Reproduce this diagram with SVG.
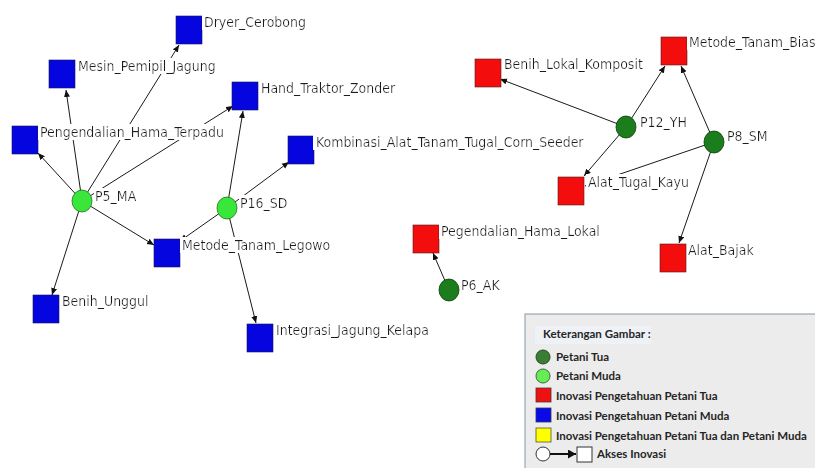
<svg xmlns="http://www.w3.org/2000/svg" width="815" height="468" viewBox="0 0 815 468">
  <style>
    .edge { stroke: #1a1a1a; stroke-width: 1; fill: none; marker-end: url(#arrow); }
    .blue { fill: #0505e0; stroke: #1a1a50; stroke-width: 0.6; }
    .red { fill: #f40d0d; stroke: #501a1a; stroke-width: 0.6; }
    .old { fill: #1b7d1b; stroke: #0d3d0d; stroke-width: 0.8; }
    .young { fill: #3be63b; stroke: #1d7a1d; stroke-width: 0.8; }
    .lbl { font-family: "DejaVu Sans Condensed", "DejaVu Sans", sans-serif; font-stretch: condensed; font-size: 13.95px; fill: #1c1c1c; filter: url(#labelbg); }
    .leg { font-family: Lato, "Liberation Sans", sans-serif; font-weight: 700; font-size: 11.5px; fill: #262626; }
  </style>
  <defs>
    <marker id="arrow" markerUnits="userSpaceOnUse" markerWidth="8" markerHeight="8" refX="7" refY="3.5" orient="auto">
      <path d="M0,0.5 L7,3.5 L0,6.5 Z" fill="#111"/>
    </marker>
    <marker id="arrowBold" markerUnits="userSpaceOnUse" markerWidth="10" markerHeight="10" refX="8" refY="4.5" orient="auto">
      <path d="M0,0 L8,4.5 L0,9 Z" fill="#111"/>
    </marker>
    <!-- opaque white box behind node labels -->
    <filter id="labelbg" x="-0.01" y="0" width="1.02" height="1">
      <feFlood flood-color="#ffffff"/>
      <feComposite in="SourceGraphic" operator="over"/>
    </filter>
  </defs>

  <rect width="815" height="468" fill="#ffffff"/>

  <!-- connectors -->
  <g id="edges">
    <line class="edge" x1="82" y1="201" x2="38" y2="153"/>
    <line class="edge" x1="82" y1="201" x2="66" y2="90"/>
    <line class="edge" x1="82" y1="201" x2="179" y2="45"/>
    <line class="edge" x1="82" y1="201" x2="233" y2="106"/>
    <line class="edge" x1="82" y1="201" x2="154" y2="245"/>
    <line class="edge" x1="82" y1="201" x2="52" y2="295"/>
    <line class="edge" x1="227" y1="208" x2="243" y2="111"/>
    <line class="edge" x1="227" y1="208" x2="289" y2="162"/>
    <line class="edge" x1="227" y1="208" x2="180" y2="241"/>
    <line class="edge" x1="227" y1="208" x2="256" y2="323"/>
    <line class="edge" x1="626" y1="127" x2="500" y2="79"/>
    <line class="edge" x1="626" y1="127" x2="665" y2="66"/>
    <line class="edge" x1="626" y1="127" x2="584" y2="176"/>
    <line class="edge" x1="714" y1="142" x2="681" y2="66"/>
    <line class="edge" x1="714" y1="142" x2="585" y2="186"/>
    <line class="edge" x1="714" y1="142" x2="679" y2="243"/>
    <line class="edge" x1="449" y1="290" x2="433" y2="253"/>
  </g>

  <!-- young farmer innovations -->
  <g id="n-dryer"><rect class="blue" x="176" y="16" width="26" height="28"/><text class="lbl" x="204" y="27">Dryer_Cerobong</text></g>
  <g id="n-mesin"><rect class="blue" x="49" y="60" width="26" height="28"/><text class="lbl" x="78" y="71">Mesin_Pemipil_Jagung</text></g>
  <g id="n-hand"><rect class="blue" x="232" y="82" width="26" height="28"/><text class="lbl" x="261" y="93">Hand_Traktor_Zonder</text></g>
  <g id="n-pht"><rect class="blue" x="12" y="126" width="26" height="28"/><text class="lbl" x="40" y="137">Pengendalian_Hama_Terpadu</text></g>
  <g id="n-kombinasi"><rect class="blue" x="288" y="136" width="26" height="28"/><text class="lbl" x="316" y="147">Kombinasi_Alat_Tanam_Tugal_Corn_Seeder</text></g>
  <g id="n-legowo"><rect class="blue" x="154" y="239" width="26" height="28"/><text class="lbl" x="182" y="250">Metode_Tanam_Legowo</text></g>
  <g id="n-unggul"><rect class="blue" x="33" y="295" width="26" height="28"/><text class="lbl" x="62" y="306">Benih_Unggul</text></g>
  <g id="n-integrasi"><rect class="blue" x="247" y="324" width="26" height="28"/><text class="lbl" x="276" y="335">Integrasi_Jagung_Kelapa</text></g>

  <!-- old farmer innovations -->
  <g id="n-bias"><rect class="red" x="661" y="37" width="26" height="28"/><text class="lbl" x="689" y="47">Metode_Tanam_Bias</text></g>
  <g id="n-lokal"><rect class="red" x="475" y="59" width="26" height="28"/><text class="lbl" x="504" y="69">Benih_Lokal_Komposit</text></g>
  <g id="n-tugal"><rect class="red" x="558" y="177" width="26" height="28"/><text class="lbl" x="588" y="187">Alat_Tugal_Kayu</text></g>
  <g id="n-phl"><rect class="red" x="413" y="225" width="26" height="28"/><text class="lbl" x="441" y="236">Pegendalian_Hama_Lokal</text></g>
  <g id="n-bajak"><rect class="red" x="660" y="244" width="26" height="28"/><text class="lbl" x="688" y="255">Alat_Bajak</text></g>

  <!-- farmers -->
  <g id="p5"><ellipse class="young" cx="82" cy="201" rx="10" ry="11"/><text class="lbl" x="95" y="201">P5_MA</text></g>
  <g id="p16"><ellipse class="young" cx="227" cy="208" rx="10" ry="11"/><text class="lbl" x="240" y="208">P16_SD</text></g>
  <g id="p12"><ellipse class="old" cx="626" cy="127" rx="10" ry="11"/><text class="lbl" x="640" y="127">P12_YH</text></g>
  <g id="p8"><ellipse class="old" cx="714" cy="142" rx="10" ry="11"/><text class="lbl" x="727" y="141">P8_SM</text></g>
  <g id="p6"><ellipse class="old" cx="449" cy="290" rx="10" ry="11"/><text class="lbl" x="461" y="290">P6_AK</text></g>

  <!-- legend -->
  <g id="legend">
    <rect x="525" y="314" width="300" height="160" fill="#ececec" stroke="#9aa6b2" stroke-width="1.2"/>
    <rect x="535" y="326" width="116" height="18" fill="#eef2f7"/>
    <text class="leg" x="543" y="338">Keterangan Gambar :</text>
    <circle cx="543" cy="357" r="7" fill="#3b7d33" stroke="#244d24" stroke-width="1"/>
    <text class="leg" x="556" y="361">Petani Tua</text>
    <circle cx="543" cy="376" r="7" fill="#66ec55" stroke="#3b6b3b" stroke-width="1"/>
    <text class="leg" x="556" y="380">Petani Muda</text>
    <rect x="536" y="388" width="15" height="14" fill="#ee1111" stroke="#553333" stroke-width="0.8"/>
    <text class="leg" x="556" y="400">Inovasi Pengetahuan Petani Tua</text>
    <rect x="536" y="408" width="15" height="14" fill="#0a0ae8" stroke="#333355" stroke-width="0.8"/>
    <text class="leg" x="556" y="420">Inovasi Pengetahuan Petani Muda</text>
    <rect x="536" y="428" width="15" height="14" fill="#ffff00" stroke="#555533" stroke-width="0.8"/>
    <text class="leg" x="556" y="440">Inovasi Pengetahuan Petani Tua dan Petani Muda</text>
    <circle cx="543" cy="454" r="7" fill="#ffffff" stroke="#333" stroke-width="1"/>
    <line x1="550" y1="454" x2="576" y2="454" stroke="#111" stroke-width="2" marker-end="url(#arrowBold)"/>
    <rect x="577" y="447" width="15" height="15" fill="#ffffff" stroke="#333" stroke-width="1"/>
    <text class="leg" x="597" y="458">Akses Inovasi</text>
  </g>
</svg>
